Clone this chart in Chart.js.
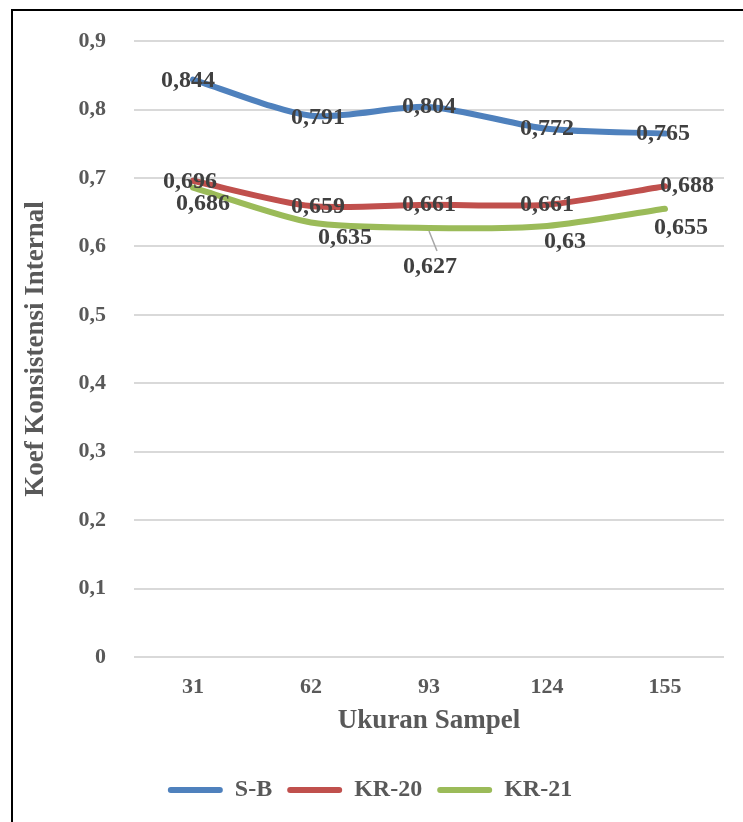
<!DOCTYPE html>
<html>
<head>
<meta charset="utf-8">
<script src="https://cdn.jsdelivr.net/npm/chart.js@4/dist/chart.umd.min.js"></script>
<style>
  html, body { margin: 0; padding: 0; background: #fff; overflow: hidden; }
  #frame { position: absolute; left: 11px; top: 9px; width: 800px; height: 900px;
           border-left: 2px solid #000; border-top: 2px solid #000; }
  #wrap { position: absolute; left: 0; top: 0; width: 743px; height: 822px; }
</style>
</head>
<body>
<div id="frame"></div>
<div id="wrap"><canvas id="chart" width="743" height="822"></canvas></div>
<script>
// data
const ukuranSampel = ["31", "62", "93", "124", "155"];
const seriesNames = ["S-B", "KR-20", "KR-21"];
const nilaiSB = [0.844, 0.791, 0.804, 0.772, 0.765];
const nilaiKR20 = [0.696, 0.659, 0.661, 0.661, 0.688];
const nilaiKR21 = [0.686, 0.635, 0.627, 0.63, 0.655];

const warna = ["#4F81BD", "#C0504D", "#9BBB59"];
const serif = "'Liberation Serif', 'Times New Roman', serif";

// where each value label sits relative to its point (dx, dy)
const labelOffsets = [
  [[-5, 1], [7, 2], [0, 0], [0, 0], [-2, 0]],
  [[-3, 1], [7, 1], [0, 0], [0, 0], [22, 0]],
  [[10, 16], [34, 15], [1, 39], [18, 16], [16, 19]]
];

const fmt = v => String(v).replace(".", ",");

const valueLabels = {
  id: "valueLabels",
  afterDatasetsDraw(chart) {
    const ctx = chart.ctx;
    ctx.save();
    ctx.font = "bold 24px " + serif;
    ctx.fillStyle = "#404040";
    ctx.textAlign = "center";
    ctx.textBaseline = "middle";
    chart.data.datasets.forEach((ds, di) => {
      const meta = chart.getDatasetMeta(di);
      meta.data.forEach((pt, i) => {
        const [dx, dy] = labelOffsets[di][i];
        if (dy > 30) {
          // leader line for labels pushed far from the point
          ctx.strokeStyle = "#a6a6a6";
          ctx.lineWidth = 1.5;
          ctx.beginPath();
          ctx.moveTo(pt.x, pt.y + 3);
          ctx.lineTo(pt.x + 8, pt.y + dy - 16);
          ctx.stroke();
        }
        ctx.fillText(fmt(ds.data[i]), pt.x + dx, pt.y + dy);
      });
    });
    ctx.restore();
  }
};

new Chart(document.getElementById("chart"), {
  type: "line",
  data: {
    labels: ukuranSampel,
    datasets: [nilaiSB, nilaiKR20, nilaiKR21].map((d, i) => ({
      label: seriesNames[i],
      data: d,
      borderColor: warna[i],
      backgroundColor: warna[i],
      borderWidth: 6,
      borderCapStyle: "round",
      borderJoinStyle: "round",
      pointRadius: 0,
      tension: 0.25
    }))
  },
  options: {
    responsive: false,
    animation: false,
    layout: { padding: { left: 16, right: 19, top: 37, bottom: 10 } },
    plugins: {
      tooltip: { enabled: false },
      legend: {
        position: "bottom",
        labels: {
          color: "#595959",
          font: { family: serif, size: 24, weight: "bold" },
          boxWidth: 55,
          boxHeight: 6,
          useBorderRadius: true,
          borderRadius: 3,
          padding: 15,
          generateLabels: chart => {
            const items = Chart.defaults.plugins.legend.labels.generateLabels(chart);
            items.forEach(it => { it.lineWidth = 0; });
            return items;
          }
        }
      }
    },
    scales: {
      x: {
        offset: true,
        grid: { display: false, drawTicks: false },
        border: { display: false },
        ticks: { color: "#595959", padding: 17, font: { family: serif, size: 22, weight: "bold" } },
        title: {
          display: true,
          text: "Ukuran Sampel",
          color: "#595959",
          font: { family: serif, size: 27, weight: "bold" },
          padding: { top: 4, bottom: 26 }
        },
        afterFit: s => { s.height = 106; }
      },
      y: {
        min: 0,
        max: 0.9,
        ticks: {
          stepSize: 0.1,
          color: "#595959",
          padding: 28,
          font: { family: serif, size: 22, weight: "bold" },
          callback: v => fmt(Math.round(v * 10) / 10)
        },
        grid: { color: "#d9d9d9", lineWidth: 2, drawTicks: false },
        border: { display: false },
        title: {
          display: true,
          text: "Koef Konsistensi Internal",
          color: "#595959",
          font: { family: serif, size: 27, weight: "bold" },
          padding: { top: 4, bottom: 4 }
        },
        afterFit: s => { s.width = 118; }
      }
    }
  },
  plugins: [valueLabels]
});
</script>
</body>
</html>
